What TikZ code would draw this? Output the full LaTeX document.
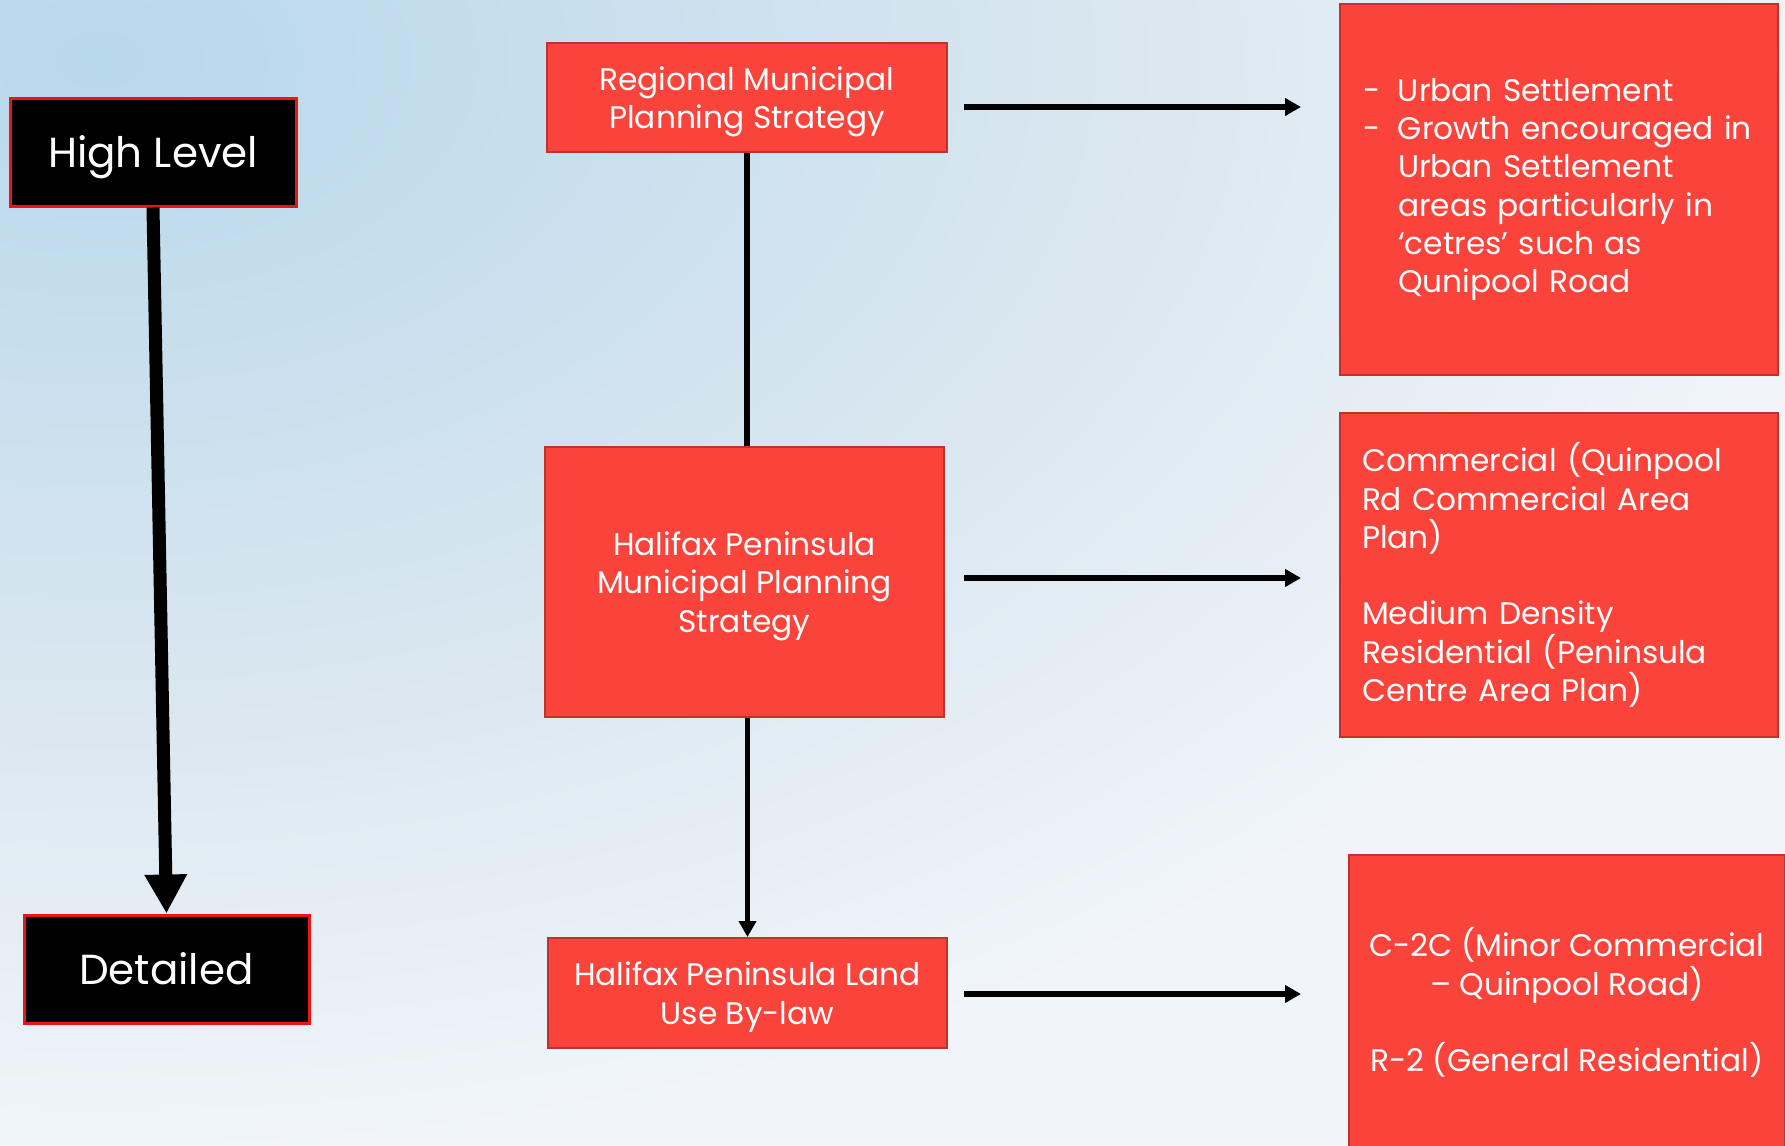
\documentclass[tikz,border=0pt]{standalone}
\usepackage{fontspec}
\setmainfont{Poppins}
\usetikzlibrary{arrows.meta}
\definecolor{boxred}{RGB}{249,67,59}
\definecolor{boxedge}{RGB}{192,50,44}
\definecolor{hlred}{RGB}{238,20,20}
\definecolor{bgblue}{RGB}{184,216,235}
\definecolor{bgmid}{RGB}{216,230,240}
\definecolor{bgwhite}{RGB}{241,245,249}
\pgfdeclareradialshading{bgshade}{\pgfpoint{0bp}{0bp}}{color(0bp)=(bgblue); color(13.75bp)=(bgmid); color(25bp)=(bgwhite); color(50bp)=(bgwhite)}
\newcommand\rbfont{\fontsize{15.6}{19.15}\selectfont}
\newcommand\hlfont{\fontsize{21}{25}\selectfont}
\begin{document}
\begin{tikzpicture}[x=0.5pt,y=-0.5pt,
  redbox/.style={draw=boxedge, line width=1pt, fill=boxred, text=white, font=\rbfont, inner sep=0pt, align=center},
  darkbox/.style={draw=hlred, line width=1.5pt, fill=black, text=white, font=\hlfont, inner sep=0pt, text depth=0pt},
  plainline/.style={line width=2.6pt, black},
  thinarrow/.style={line width=2.6pt, black, -{Triangle[length=8pt,width=8.5pt]}},
  bigarrow/.style={line width=6.5pt, black, -{Triangle[length=19.5pt,width=20pt]}}
]
\useasboundingbox (0,0) rectangle (1785,1146);
\begin{scope}
  \clip (0,0) rectangle (1785,1146);
  \fill[bgwhite] (0,0) rectangle (1785,1146);
  \shade[shading=bgshade] (100,60) ellipse [x radius=1760, y radius=1100];
\end{scope}

\node[darkbox, minimum width=143pt, minimum height=54pt] (high) at (153,152) {High Level};
\node[darkbox, minimum width=142.5pt, minimum height=54pt] (detail) at (166.5,969) {Detailed};

\node[redbox, text depth=0pt, minimum width=200pt, minimum height=54.5pt] (rmps) at (747,97.5) {Regional Municipal\\Planning Strategy};
\node[redbox, text depth=0pt, minimum width=199.5pt, minimum height=135pt] (hmps) at (744.5,582) {Halifax Peninsula\\Municipal Planning\\Strategy};
\node[redbox, text depth=0pt, minimum width=199.5pt, minimum height=55pt] (lub) at (747.5,993) {Halifax Peninsula Land\\Use By-law};

\node[redbox, minimum width=219pt, minimum height=185.5pt, text width=196pt, align=left] (r1) at (1559,189.5)
  {\mbox{\makebox[17.5pt][l]{-}Urban Settlement}\\
   \mbox{\makebox[17.5pt][l]{-}Growth encouraged in}\\
   \mbox{\hspace*{17.5pt}Urban Settlement}\\
   \mbox{\hspace*{17.5pt}areas particularly in}\\
   \mbox{\hspace*{17.5pt}‘cetres’ such as}\\
   \mbox{\hspace*{17.5pt}Qunipool Road}};
\node[redbox, minimum width=219pt, minimum height=162pt, text width=197pt, align=left] (r2) at (1559,575)
  {Commercial (Quinpool\\Rd Commercial Area\\Plan)\\[19.15pt]Medium Density\\Residential (Peninsula\\Centre Area Plan)};
\node[redbox, minimum width=218pt, minimum height=147.5pt] (r3) at (1567,1002.5)
  {C-2C (Minor Commercial\\– Quinpool Road)\\[19.15pt]R-2 (General Residential)};

\draw[bigarrow] (high.south) -- (detail.north);
\draw[plainline] (rmps.south) -- (rmps.south |- hmps.north);
\draw[thinarrow] (lub.north |- hmps.south) -- (lub.north);

\draw[thinarrow, shorten <=8pt, shorten >=19pt] ([yshift=-4.75pt]rmps.east) -- ([yshift=-4.75pt]rmps.east -| r1.west);
\draw[thinarrow, shorten <=9.5pt, shorten >=19pt] ([yshift=2pt]hmps.east) -- ([yshift=2pt]hmps.east -| r2.west);
\draw[thinarrow, shorten <=8pt, shorten >=23.5pt] ([yshift=-0.5pt]lub.east) -- ([yshift=-0.5pt]lub.east -| r3.west);
\end{tikzpicture}
\end{document}
